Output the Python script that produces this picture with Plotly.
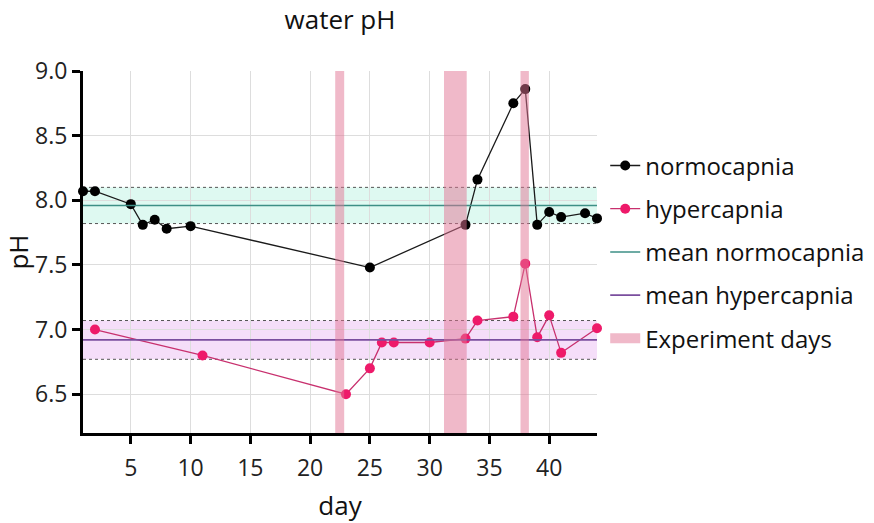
import plotly.graph_objects as go

# ---- data ----
norm_days = [1, 2, 5, 6, 7, 8, 10, 25, 33, 34, 37, 38, 39, 40, 41, 43, 44]
norm_ph = [8.07, 8.07, 7.97, 7.81, 7.85, 7.78, 7.80, 7.48, 7.81, 8.16, 8.75, 8.86, 7.81, 7.91, 7.87, 7.90, 7.86]

hyper_days = [2, 11, 23, 25, 26, 27, 30, 33, 34, 37, 38, 39, 40, 41, 44]
hyper_ph = [7.00, 6.80, 6.50, 6.70, 6.90, 6.90, 6.90, 6.93, 7.07, 7.10, 7.51, 6.94, 7.11, 6.82, 7.01]

mean_norm = 7.96
band_norm = [7.82, 8.10]
mean_hyper = 6.92
band_hyper = [6.77, 7.07]

exp_start = [22.1, 31.2, 37.6]
exp_end = [22.85, 33.1, 38.3]

x_range = [1, 44]
y_range = [6.2, 9.0]
x_ticks = [5, 10, 15, 20, 25, 30, 35, 40]
y_ticks = [6.5, 7.0, 7.5, 8.0, 8.5, 9.0]

FONT = "Open Sans"
fig = go.Figure()

shapes = []
# bands
for (lo, hi), fill, dot in [(band_norm, "rgba(200,245,232,0.6)", "#555555"),
                             (band_hyper, "rgba(238,200,245,0.6)", "#555555")]:
    shapes.append(dict(type="rect", xref="x", yref="y", x0=x_range[0], x1=x_range[1], y0=lo, y1=hi,
                       fillcolor=fill, line=dict(width=0), layer="below"))
    for v in (lo, hi):
        shapes.append(dict(type="line", xref="x", yref="y", x0=x_range[0], x1=x_range[1], y0=v, y1=v,
                           line=dict(color=dot, width=1, dash="dot"), layer="below"))
# experiment day bars
for s, e in zip(exp_start, exp_end):
    shapes.append(dict(type="rect", xref="x", yref="y", x0=s, x1=e, y0=y_range[0], y1=y_range[1],
                       fillcolor="rgba(225,115,147,0.5)", line=dict(width=0), layer="above"))

fig.add_trace(go.Scatter(x=norm_days, y=norm_ph, mode="lines+markers", name="normocapnia",
                         line=dict(color="#1a1a1a", width=1.3), marker=dict(color="#000000", size=10),
                         cliponaxis=False, legendgroup="a"))
fig.add_trace(go.Scatter(x=hyper_days, y=hyper_ph, mode="lines+markers", name="hypercapnia",
                         line=dict(color="#c8306e", width=1.3), marker=dict(color="#ee1a6a", size=10),
                         cliponaxis=False, legendgroup="b"))
fig.add_trace(go.Scatter(x=x_range, y=[mean_norm, mean_norm], mode="lines", name="mean normocapnia",
                         line=dict(color="#3d8f86", width=1.5), legendgroup="c"))
fig.add_trace(go.Scatter(x=x_range, y=[mean_hyper, mean_hyper], mode="lines", name="mean hypercapnia",
                         line=dict(color="#7a4e9e", width=1.8), legendgroup="d"))
fig.add_trace(go.Scatter(x=[None], y=[None], mode="lines", name="Experiment days",
                         line=dict(color="#f0b9c9", width=10), legendgroup="e"))

fig.update_layout(
    width=874, height=523,
    margin=dict(l=83, r=277, t=71, b=90, autoexpand=False),
    paper_bgcolor="white", plot_bgcolor="white",
    font=dict(family=FONT, color="#222222", size=22),
    title=dict(text="water pH", x=(83 + 597) / 2 / 874, xanchor="center", y=1 - 20 / 523, yanchor="middle",
               font=dict(family=FONT, size=26, color="#111111")),
    shapes=shapes,
    showlegend=True,
    legend=dict(x=1.016, xanchor="left", y=0.80, yanchor="top", font=dict(family=FONT, size=24, color="#111111"),
                tracegroupgap=9, traceorder="grouped", itemwidth=30, bgcolor="rgba(0,0,0,0)"),
    xaxis=dict(range=x_range, tickvals=x_ticks, showgrid=True, gridcolor="#dddddd", gridwidth=1,
               showline=True, linecolor="#000000", linewidth=3, ticks="outside", ticklen=8, tickwidth=3,
               tickcolor="#000000", zeroline=False, tickfont=dict(size=23, color="#222222"),
               ticklabelstandoff=4,
               title=dict(text="day", font=dict(size=26, color="#111111"), standoff=22)),
    yaxis=dict(range=y_range, tickvals=y_ticks, ticktext=[f"{v:.1f}" for v in y_ticks],
               showgrid=True, gridcolor="#dddddd", gridwidth=1,
               showline=True, linecolor="#000000", linewidth=3, ticks="outside", ticklen=8, tickwidth=3,
               tickcolor="#000000", zeroline=False, tickfont=dict(size=23, color="#222222"),
               title=dict(text="pH", font=dict(size=26, color="#111111"), standoff=6)),
)

fig.write_html("out.html")
